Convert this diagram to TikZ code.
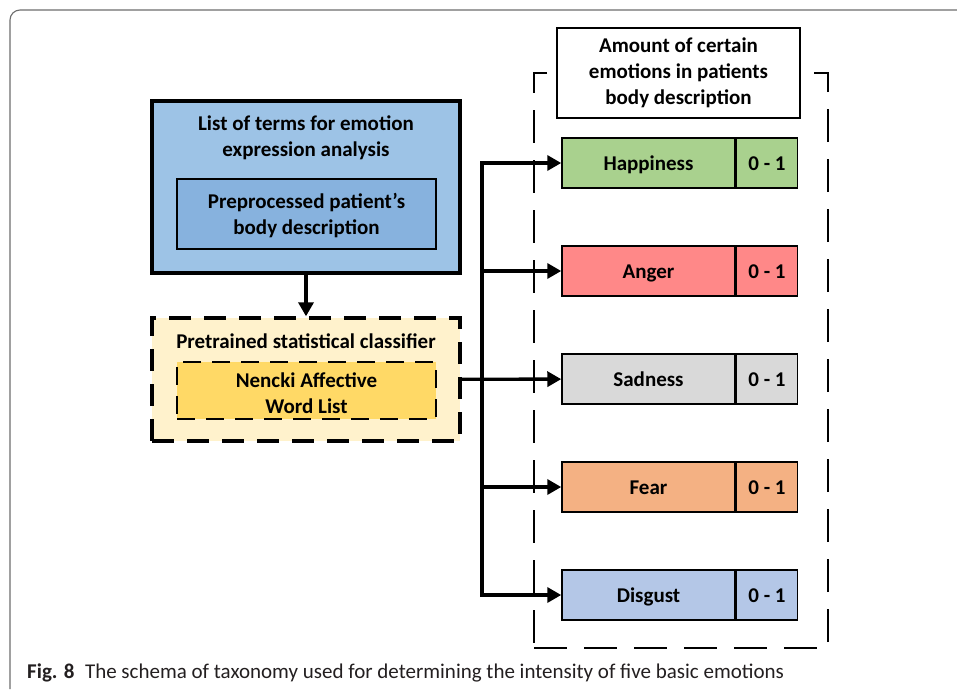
\documentclass[tikz,border=0pt]{standalone}
\usepackage{fontspec}
\setmainfont{Carlito}
\usepackage{tikz}
\usetikzlibrary{shapes,backgrounds,positioning,arrows.meta}
\usepackage{xcolor}

\definecolor{listblue}{HTML}{9DC3E6}
\definecolor{prepblue}{HTML}{87B2DE}
\definecolor{classyellow}{HTML}{FFF2CC}
\definecolor{wordgold}{HTML}{FFD966}
\definecolor{happygreen}{HTML}{A9D18E}
\definecolor{angerred}{HTML}{FF8888}
\definecolor{sadgray}{HTML}{D9D9D9}
\definecolor{fearorange}{HTML}{F4B183}
\definecolor{disgustblue}{HTML}{B4C7E7}
\definecolor{framegray}{HTML}{6E6E6E}
\definecolor{captionink}{HTML}{231F20}

\begin{document}
\begin{tikzpicture}[x=1pt, y=-1pt]
            \tikzstyle{boxtext} = [font=\fontsize{21}{26}\selectfont\bfseries, align=center, inner sep=0pt]
            \tikzstyle{container} = [draw=black, line width=3.4pt, minimum width=308pt, inner sep=0pt]
            \tikzstyle{inner} = [draw=black, line width=1.5pt, minimum width=259pt, inner sep=0pt]
            \tikzstyle{emotion} = [draw=black, line width=1.5pt, minimum width=173pt, minimum height=50pt, boxtext, text height=15pt, text depth=1pt]
            \tikzstyle{score} = [draw=black, line width=1.5pt, minimum width=61pt, minimum height=50pt, boxtext, text height=15pt, text depth=1pt, anchor=west]
            \tikzstyle{transition} = [line width=3.4pt, -{Triangle[length=14pt, width=15pt]}]
            \useasboundingbox (0,0) rectangle (957,689);
            \fill[white] (0,0) rectangle (957,689);
            \draw[framegray, line width=1.1pt, rounded corners=10pt] (10,689) -- (10,10) -- (957,10);

            % input side
            \node[container, fill=listblue, minimum height=172pt] (list) at (306,187) {};
            \node[boxtext] (listtitle) at (306,138) {List of terms for emotion\\expression analysis};
            \node[inner, fill=prepblue, minimum height=70pt] (prep) at (306.5,214) {};
            \node[boxtext] (preptext) at (306.5,216) {Preprocessed patient’s\\body description};

            \node[container, dashed, dash pattern=on 22pt off 13pt, fill=classyellow, minimum height=123pt] (classifier) at (306,379.5) {};
            \node[boxtext] (classtitle) at (306,341) {Pretrained statistical classifier};
            \node[inner, dashed, dash pattern=on 18pt off 11pt, line width=2pt, fill=wordgold, minimum height=57pt] (nawl) at (306.5,390.5) {};
            \node[boxtext] (nawltext) at (306.5,393) {Nencki Affective\\Word List};

            % output side
            \node[draw=black, line width=2.6pt, dash pattern=on 33pt off 17pt, minimum width=294pt, minimum height=575pt] (result) at (681,360.5) {};
            \node[draw=black, line width=1.5pt, fill=white, minimum width=243pt, minimum height=90pt, boxtext] (resulttitle) at (678.5,73) {Amount of certain\\emotions in patients\\body description};

            \node[emotion, fill=happygreen] (happy) at (648.5,163) {Happiness};
            \node[score, fill=happygreen] (happyval) at (happy.east) {0 - 1};
            \node[emotion, fill=angerred] (anger) at (648.5,271) {Anger};
            \node[score, fill=angerred] (angerval) at (anger.east) {0 - 1};
            \node[emotion, fill=sadgray] (sad) at (648.5,379) {Sadness};
            \node[score, fill=sadgray] (sadval) at (sad.east) {0 - 1};
            \node[emotion, fill=fearorange] (fear) at (648.5,487) {Fear};
            \node[score, fill=fearorange] (fearval) at (fear.east) {0 - 1};
            \node[emotion, fill=disgustblue] (disgust) at (648.5,595) {Disgust};
            \node[score, fill=disgustblue] (disgustval) at (disgust.east) {0 - 1};

            % connectors
            \coordinate (bus) at (482,0);
            \draw[transition] (list) -- (classifier);
            \draw[transition] (classifier) -- (sad);
            \draw[line width=3.4pt, line cap=rect] (bus |- happy.west) -- (bus |- disgust.west);
            \draw[transition] (bus |- happy.west) -- (happy);
            \draw[transition] (bus |- anger.west) -- (anger);
            \draw[transition] (bus |- fear.west) -- (fear);
            \draw[transition] (bus |- disgust.west) -- (disgust);

            \node[anchor=base west, inner sep=0pt, text=captionink, font=\fontsize{21}{24}\selectfont] (caption) at (27,678) {\textbf{Fig. 8}\enspace The schema of taxonomy used for determining the intensity of five basic emotions};
        \end{tikzpicture}
\end{document}
